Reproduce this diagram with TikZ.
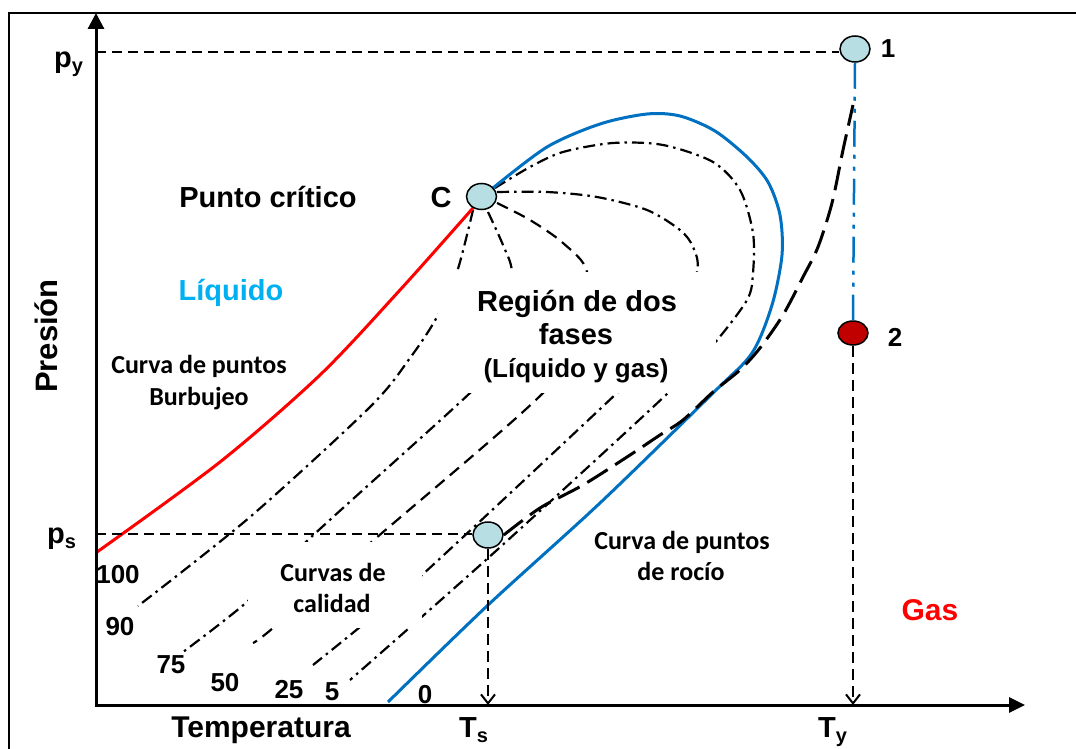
\documentclass[tikz,border=0pt]{standalone}
\usepackage{fontspec}
\setmainfont{Liberation Sans}
\newfontfamily\calib{Carlito}
\usetikzlibrary{arrows.meta,shapes.geometric}
\definecolor{ptfill}{RGB}{183,222,226}
\definecolor{dred}{RGB}{192,0,0}
\definecolor{cblue}{RGB}{0,112,192}
\definecolor{lcyan}{RGB}{0,176,240}
\definecolor{gred}{RGB}{255,0,0}
\begin{document}
\begin{tikzpicture}[x=1pt,y=-1pt,
  lbl/.style={font=\fontsize{29}{33}\selectfont\bfseries, inner sep=0pt},
  big/.style={font=\fontsize{30}{34}\selectfont\bfseries, inner sep=0pt, anchor=base},
  num/.style={font=\fontsize{26}{28}\selectfont\bfseries, inner sep=0pt, anchor=base},
  cal/.style={font=\fontsize{26}{30}\selectfont\calib\bfseries, inner sep=0pt, anchor=base},
  ptnode/.style={ellipse, draw=black, line width=1.5pt, fill=ptfill, minimum width=30pt, minimum height=26pt, inner sep=0pt},
  dashdot/.style={line width=2.2pt, dash pattern=on 12pt off 5pt on 2.5pt off 5pt},
  dashq/.style={line width=2.2pt, dash pattern=on 12pt off 7pt},
  guide/.style={line width=2pt, dash pattern=on 10pt off 6pt},
  vguide/.style={line width=2pt, dash pattern=on 11pt off 6pt, -{Straight Barb[length=9pt,width=14pt]}},
  longdash/.style={line width=3pt, dash pattern=on 24pt off 9pt},
  curve/.style={line width=3pt},
]
\useasboundingbox (0,0) rectangle (1076,749);
% frame
\draw[line width=2pt] (9,760) -- (9,13) -- (1080,13);

% quality lines
\draw[dashdot] plot[smooth] coordinates {(473,210) (457,272) (437,317) (410,358) (370,407) (250,517) (138,606)};
\draw[dashdot] plot[smooth] coordinates {(488,212) (503,245) (512,272) (508,322) (492,365) (470,393) (308,540) (248,601) (183,652)};
\draw[dashq] plot[smooth] coordinates {(497,203) (530,220) (563,243) (587,272) (580,330) (543,393) (368,545) (273,628) (253,643)};
\draw[dashdot] plot[smooth] coordinates {(497,192) (547,192) (597,197) (647,210) (680,230) (693,247) (697,272) (675,335) (617,393) (422,575) (360,627) (313,665)};
\draw[dashdot] plot[smooth] coordinates {(495,188) (530,167) (563,152) (613,143) (663,145) (713,162) (740,190) (753,233) (753,273) (747,300) (713,345) (668,393) (497,550) (350,680)};

% white text backgrounds
\fill[white] (438,272) rectangle (716,393);
\fill[white] (248,542) rectangle (422,628);

% bubble and dew curves
\draw[curve, gred] plot[smooth] coordinates {(473,208) (400,290) (320,375) (220,462) (97,552)};
\draw[curve, cblue] plot[smooth] coordinates {(388,702) (487,606) (600,503) (713,393) (752,353) (772,305) (782,255) (780,215) (768,182) (747,157) (715,131) (680,116) (647,114) (600,124) (547,147) (493,188)};

% points
\node[ptnode] (C) at (481.5,196.5) {};
\node[ptnode] (P1) at (855,49) {};
\node[ptnode, fill=dred, minimum height=24pt] (P2) at (853,333) {};
\node[ptnode] (PS) at (488,535) {};

% long dashed process curve
\draw[longdash] plot[smooth] coordinates {(PS.east) (540,508) (583,485) (627,457) (660,435) (683,420) (713,392) (740,370) (760,348) (783,315) (803,277) (818,247) (832,203) (843,150) (853,105)};

% axes
\coordinate (O) at (96,705);
\coordinate (Ytop) at (96,13);
\coordinate (Xend) at (1025,705);
\coordinate (py) at (96,52);
\coordinate (ps) at (96,534);
\draw[line width=3pt, {Triangle[length=16pt,width=16pt]}-{Triangle[length=16pt,width=15pt]}] (Ytop) -- (O) -- (Xend);

% guides
\draw[guide] (py) -- (py -| P1.west);
\draw[guide] (ps) -- (ps -| PS.west);
\draw[vguide] (PS.south) -- (PS.south |- O);
\draw[vguide] (P2.south) -- (P2.south |- O);
\draw[cblue, line width=2.5pt, dash pattern=on 26pt off 8pt on 4pt off 8pt on 4pt off 8pt] (P1.south) -- (P2.north);

% labels
\node[lbl, anchor=base west] (pylab) at (54,68) {p\raisebox{-5pt}{\fontsize{20}{20}\selectfont y}};
\node[lbl, anchor=base west] (pslab) at (47,543) {p\raisebox{-5pt}{\fontsize{20}{20}\selectfont s}};
\node[lbl, anchor=base west] (tslab) at (459,737) {T\raisebox{-5pt}{\fontsize{20}{20}\selectfont s}};
\node[lbl, anchor=base west] (tylab) at (818,737) {T\raisebox{-5pt}{\fontsize{20}{20}\selectfont y}};
\node[lbl, anchor=base] (clab) at (441,207) {C};
\node[num] (n1) at (888,58) {1};
\node[num] (n2) at (895,346) {2};
\node[lbl, anchor=base] (pc) at (268,207) {Punto crítico};
\node[lbl, anchor=base, text=lcyan] (liq) at (231,300) {Líquido};
\node[big, text=gred] (gas) at (930,620) {Gas};
\node[big] (temp) at (261,737) {Temperatura};
\node[lbl, rotate=90, anchor=base, font=\fontsize{31}{34}\selectfont\bfseries] (pres) at (57,336) {Presión};
\node[lbl, anchor=base] (r1) at (577,311) {Región de dos};
\node[lbl, anchor=base] (r2) at (576,344) {fases};
\node[lbl, anchor=base, font=\fontsize{26}{30}\selectfont\bfseries] (r3) at (576,377) {(Líquido y gas)};
\node[cal] (b1) at (199,373) {Curva de puntos};
\node[cal] (b2) at (199,405) {Burbujeo};
\node[cal] (q1) at (333,581) {Curvas de};
\node[cal] (q2) at (332,612) {calidad};
\node[cal] (d1) at (682,549) {Curva de puntos};
\node[cal] (d2) at (681,580) {de rocío};
\node[num] (n100) at (118,583) {100};
\node[num] (n90) at (120,635) {90};
\node[num] (n75) at (171,673) {75};
\node[num] (n50) at (225,691) {50};
\node[num] (n25) at (289,698) {25};
\node[num] (n5) at (332,700) {5};
\node[num] (n0) at (425,703) {0};
\end{tikzpicture}
\end{document}
